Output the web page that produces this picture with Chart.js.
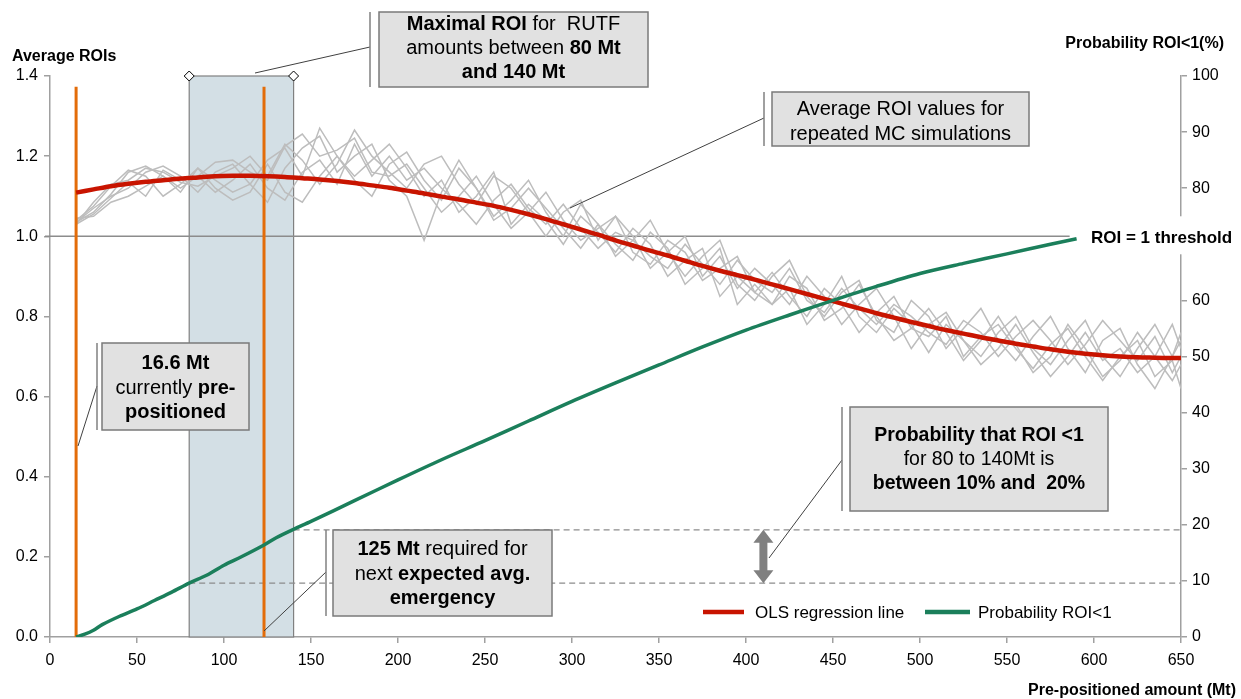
<!DOCTYPE html>
<html><head><meta charset="utf-8">
<script src="https://cdn.jsdelivr.net/npm/chart.js@4/dist/chart.umd.min.js"></script>
<style>html,body{margin:0;padding:0;background:#fff}</style>
</head><body>
<canvas id="c" width="1241" height="699"></canvas>
<script>
// ---------- DATA ----------
const amounts = [15,25,35,45,55,65,75,85,95,105,115,125,135,145,155,165,175,185,195,205,215,225,235,245,255,265,275,285,295,305,315,325,335,345,355,365,375,385,395,405,415,425,435,445,455,465,475,485,495,505,515,525,535,545,555,565,575,585,595,605,615,625,635,645,650];
const olsRoi = [1.109,1.117,1.125,1.131,1.136,1.140,1.144,1.147,1.150,1.151,1.151,1.150,1.148,1.145,1.142,1.138,1.133,1.127,1.121,1.114,1.107,1.099,1.092,1.084,1.076,1.066,1.055,1.043,1.030,1.017,1.004,0.990,0.977,0.964,0.952,0.939,0.926,0.914,0.903,0.892,0.880,0.868,0.856,0.844,0.832,0.820,0.808,0.797,0.786,0.776,0.766,0.757,0.748,0.740,0.732,0.725,0.718,0.712,0.707,0.703,0.700,0.698,0.697,0.696,0.696];
const mc1 = [1.035,1.060,1.105,1.160,1.175,1.150,1.120,1.150,1.185,1.190, 1.160,1.140,1.225,1.255,1.200,1.215,1.245,1.160,1.150,1.180, 1.120,1.060,1.100,1.150,1.080,1.020,1.060,1.110,1.040,0.990, 1.020,1.050,0.960,0.930,0.990,0.960,0.890,0.920,0.950,0.860, 0.830,0.900,0.870,0.790,0.820,0.880,0.800,0.740,0.770,0.820, 0.760,0.690,0.740,0.800,0.730,0.660,0.700,0.780,0.720,0.650, 0.690,0.760,0.700,0.640,0.680];
const mc2 = [1.040,1.075,1.125,1.165,1.150,1.100,1.130,1.170,1.120,1.090, 1.110,1.180,1.110,1.085,1.150,1.200,1.140,1.100,1.180,1.210, 1.140,1.090,1.170,1.120,1.050,1.090,1.140,1.060,1.000,1.080, 1.030,0.950,0.990,1.040,0.960,0.900,0.950,0.990,0.880,0.840, 0.900,0.940,0.850,0.800,0.860,0.890,0.790,0.760,0.840,0.800, 0.720,0.770,0.820,0.740,0.690,0.750,0.800,0.720,0.660,0.740, 0.770,0.680,0.620,0.700,0.740];
const mc3 = [1.030,1.085,1.130,1.140,1.170,1.160,1.135,1.125,1.150,1.170, 1.200,1.150,1.230,1.190,1.130,1.180,1.265,1.200,1.160,1.120, 1.180,1.200,1.130,1.080,1.150,1.120,1.060,1.000,1.060,1.090, 0.990,1.050,1.000,0.920,0.960,1.000,0.900,0.950,0.870,0.920, 0.880,0.830,0.900,0.850,0.780,0.830,0.870,0.800,0.720,0.780, 0.810,0.740,0.700,0.760,0.800,0.720,0.680,0.740,0.790,0.700, 0.650,0.720,0.780,0.700,0.760];
const mc4 = [1.045,1.050,1.085,1.100,1.125,1.150,1.110,1.170,1.140,1.110, 1.130,1.085,1.170,1.220,1.250,1.160,1.200,1.230,1.140,1.100, 0.990,1.110,1.190,1.120,1.040,1.070,1.120,1.070,1.020,0.970, 1.030,0.980,0.940,1.010,0.970,0.880,0.920,0.970,0.830,0.880, 0.830,0.870,0.780,0.830,0.900,0.800,0.760,0.820,0.780,0.710, 0.780,0.740,0.680,0.720,0.780,0.710,0.650,0.700,0.760,0.690, 0.720,0.660,0.700,0.780,0.720];
const mc5 = [1.035,1.070,1.100,1.120,1.160,1.175,1.150,1.110,1.160,1.180, 1.130,1.190,1.220,1.150,1.270,1.200,1.150,1.190,1.230,1.170, 1.100,1.140,1.060,1.100,1.160,1.030,1.080,1.040,0.980,1.050, 1.010,0.960,1.020,0.980,0.900,0.940,0.970,0.850,0.900,0.860, 0.910,0.850,0.800,0.870,0.830,0.760,0.810,0.850,0.770,0.750, 0.800,0.700,0.750,0.780,0.720,0.670,0.730,0.770,0.700,0.640, 0.700,0.740,0.650,0.690,0.620];
const mc6 = [1.030,1.055,1.095,1.135,1.100,1.165,1.140,1.150,1.110,1.140, 1.180,1.120,1.090,1.160,1.190,1.130,1.230,1.150,1.200,1.140, 1.170,1.120,1.080,1.030,1.090,1.130,1.070,1.030,1.080,1.020, 0.970,1.010,0.990,0.950,0.920,0.980,0.930,0.880,0.940,0.890, 0.860,0.920,0.840,0.810,0.870,0.820,0.780,0.830,0.800,0.760, 0.730,0.790,0.760,0.700,0.750,0.790,0.740,0.680,0.730,0.790, 0.740,0.690,0.750,0.660,0.700];
const probAmounts = [15,20,25,30,40,50,60,70,80,90,100,110,123,130,140,150,175,200,225,250,275,300,325,350,375,400,425,450,475,500,525,550,575,590];
const probPct = [0,0.5,1.2,2.2,3.7,5.0,6.5,8.0,9.6,11.0,12.8,14.3,16.4,17.7,19.2,20.6,24.3,28.0,31.6,35.0,38.5,42.0,45.3,48.5,51.7,54.7,57.4,60.0,62.5,64.8,66.6,68.3,70.0,71.0];
const currentAmount = 15;      // 16.6 Mt marker
const requiredAmount = 123;    // 125 Mt marker
const markerTop = 1.373;
const optimalRange = [80, 140];
const threshold = 1.0;
const thresholdEnd = 586;
const probBand = [9.6, 19.1];
const arrowAt = 410;
const xTickStep = 50, yTickStep = 0.2, y2TickStep = 10;

// ---------- HELPERS ----------
const FONT = '"Liberation Sans", Arial, sans-serif';
const pts = (xa, ya) => xa.map((x, i) => ({x, y: ya[i]}));
function rich(ctx, segs, cx, y, size) {
  let w = 0;
  segs.forEach(s => { ctx.font = (s[1] ? 'bold ' : '') + size + 'px ' + FONT; w += ctx.measureText(s[0]).width; });
  let x = cx - w / 2;
  ctx.textAlign = 'left'; ctx.textBaseline = 'alphabetic'; ctx.fillStyle = '#000';
  segs.forEach(s => { ctx.font = (s[1] ? 'bold ' : '') + size + 'px ' + FONT; ctx.fillText(s[0], x, y); x += ctx.measureText(s[0]).width; });
}
function line(ctx, x1, y1, x2, y2, color, w, dash) {
  ctx.save(); ctx.beginPath(); ctx.strokeStyle = color; ctx.lineWidth = w;
  if (dash) ctx.setLineDash(dash);
  ctx.moveTo(x1, y1); ctx.lineTo(x2, y2); ctx.stroke(); ctx.restore();
}
const boxes = [
  {r:[379,12,648,87], bx:370, lead:[370,47,255,73], size:20, lines:[[[ 'Maximal ROI',1],[' for  RUTF',0]],[['amounts between ',0],['80 Mt',1]],[['and 140 Mt',1]]], base:[30,54,78]},
  {r:[772,92,1029,146], bx:764, lead:[764,118,570,208], size:20, lines:[[['Average ROI values for',0]],[['repeated MC simulations',0]]], base:[115,140]},
  {r:[102,343,249,430], bx:97, lead:[97,386,78,446], size:20, lines:[[['16.6 Mt',1]],[['currently ',0],['pre-',1]],[['positioned',1]]], base:[369,394,418]},
  {r:[850,407,1108,511], bx:842, lead:[842,460,769,558], size:19.5, lines:[[['Probability that ROI <1',1]],[['for 80 to 140Mt is',0]],[['between 10% and  20%',1]]], base:[441,465,489]},
  {r:[333,530,552,616], bx:326, lead:[326,572,264,631], size:20, lines:[[['125 Mt',1],[' required for',0]],[['next ',0],['expected avg.',1]],[['emergency',1]]], base:[555,580,604]}
];

const behind = {
  id: 'behind',
  beforeDatasetsDraw(chart) {
    const {ctx, scales: {x, y, y2}} = chart;
    const x1 = x.getPixelForValue(optimalRange[0]), x2 = x.getPixelForValue(optimalRange[1]);
    const yt = y.getPixelForValue(1.4), yb = y.getPixelForValue(0);
    ctx.save();
    ctx.fillStyle = '#D3DFE5'; ctx.fillRect(x1, yt, x2 - x1, yb - yt);
    ctx.strokeStyle = '#808080'; ctx.lineWidth = 1.2; ctx.strokeRect(x1, yt, x2 - x1, yb - yt);
    ctx.restore();
    const yU = y2.getPixelForValue(probBand[1]), yL = y2.getPixelForValue(probBand[0]);
    line(ctx, x2, yU, x.right, yU, '#8C8C8C', 1.2, [6, 4]);
    line(ctx, x1, yL, x.right, yL, '#8C8C8C', 1.2, [6, 4]);
    const yth = y.getPixelForValue(threshold);
    line(ctx, x.left - 5, yth, x.getPixelForValue(thresholdEnd), yth, '#8C8C8C', 1.5);
  },
  afterDraw(chart) {
    const {ctx, scales: {x, y, y2}} = chart;
    ctx.save();
    [optimalRange[0], optimalRange[1]].forEach(v => {
      const px = x.getPixelForValue(v), py = y.getPixelForValue(1.4);
      ctx.beginPath(); ctx.moveTo(px, py - 5); ctx.lineTo(px + 5, py); ctx.lineTo(px, py + 5); ctx.lineTo(px - 5, py); ctx.closePath();
      ctx.fillStyle = '#fff'; ctx.fill(); ctx.strokeStyle = '#000'; ctx.lineWidth = 1; ctx.stroke();
    });
    const ax = x.getPixelForValue(arrowAt), ayT = y2.getPixelForValue(probBand[1]), ayB = y2.getPixelForValue(probBand[0]);
    ctx.fillStyle = '#808080';
    ctx.beginPath();
    ctx.moveTo(ax, ayT); ctx.lineTo(ax + 10, ayT + 13); ctx.lineTo(ax + 4, ayT + 13); ctx.lineTo(ax + 4, ayB - 13);
    ctx.lineTo(ax + 10, ayB - 13); ctx.lineTo(ax, ayB); ctx.lineTo(ax - 10, ayB - 13); ctx.lineTo(ax - 4, ayB - 13);
    ctx.lineTo(ax - 4, ayT + 13); ctx.lineTo(ax - 10, ayT + 13); ctx.closePath(); ctx.fill();
    boxes.forEach(b => {
      const [l, t, r, bt] = b.r;
      line(ctx, b.lead[0], b.lead[1], b.lead[2], b.lead[3], '#404040', 1);
      line(ctx, b.bx, t, b.bx, bt, '#808080', 1.5);
      ctx.fillStyle = '#E1E1E1'; ctx.fillRect(l, t, r - l, bt - t);
      ctx.strokeStyle = '#7A7A7A'; ctx.lineWidth = 1.5; ctx.strokeRect(l, t, r - l, bt - t);
      b.lines.forEach((segs, i) => rich(ctx, segs, (l + r) / 2, b.base[i], b.size));
    });
    const yth = y.getPixelForValue(threshold);
    ctx.fillStyle = '#fff'; ctx.fillRect(1086, yth - 20, 155, 38);
    ctx.fillStyle = '#000'; ctx.font = 'bold 17px ' + FONT; ctx.textAlign = 'left'; ctx.textBaseline = 'alphabetic';
    ctx.fillText('ROI = 1 threshold', 1091, yth + 7);
    line(ctx, 703, 612, 744, 612, '#C81400', 4.5);
    line(ctx, 925, 612, 970, 612, '#1B7F5B', 4.5);
    ctx.fillStyle = '#000'; ctx.font = '17px ' + FONT;
    ctx.fillText('OLS regression line', 755, 618);
    ctx.fillText('Probability ROI<1', 978, 618);
    ctx.font = 'bold 16px ' + FONT;
    ctx.textAlign = 'left'; ctx.fillText('Average ROIs', 12, 61);
    ctx.textAlign = 'right'; ctx.fillText('Probability ROI<1(%)', 1224, 48);
    ctx.fillText('Pre-positioned amount (Mt)', 1236, 695);
    ctx.restore();
  }
};

const grey = (d) => ({data: pts(amounts, d), yAxisID: 'y', borderColor: '#BDBDBD', borderWidth: 1.5, pointRadius: 0, tension: 0, order: 5});

new Chart(document.getElementById('c'), {
  type: 'line',
  data: {
    datasets: [
      {label: 'Probability ROI<1', data: pts(probAmounts, probPct), yAxisID: 'y2', borderColor: '#1B7F5B', borderWidth: 3.5, pointRadius: 0, tension: 0.3, order: 0},
      {label: 'OLS regression line', data: pts(amounts, olsRoi), yAxisID: 'y', borderColor: '#C81400', borderWidth: 4.5, pointRadius: 0, tension: 0.3, order: 1},
      {label: 'current', data: [{x: currentAmount, y: 0}, {x: currentAmount, y: markerTop}], yAxisID: 'y', borderColor: '#E36C09', borderWidth: 3, pointRadius: 0, order: 2},
      {label: 'required', data: [{x: requiredAmount, y: 0}, {x: requiredAmount, y: markerTop}], yAxisID: 'y', borderColor: '#E36C09', borderWidth: 3, pointRadius: 0, order: 2},
      grey(mc1), grey(mc2), grey(mc3), grey(mc4), grey(mc5), grey(mc6)
    ]
  },
  options: {
    responsive: false, animation: false, devicePixelRatio: 1,
    layout: {padding: {top: 76, left: 0, right: 0, bottom: 0}},
    plugins: {legend: {display: false}, tooltip: {enabled: false}},
    scales: {
      x: {type: 'linear', min: 0, max: 650, position: 'bottom',
        ticks: {stepSize: xTickStep, color: '#000', font: {family: FONT, size: 16}, padding: 8, maxRotation: 0},
        grid: {drawOnChartArea: false, tickLength: 6, color: '#A0A0A0', lineWidth: 1.5},
        border: {color: '#A0A0A0', width: 1.5},
        afterFit: s => { s.height = 62; }},
      y: {type: 'linear', min: 0, max: 1.4, position: 'left',
        ticks: {stepSize: yTickStep, color: '#000', font: {family: FONT, size: 16}, padding: 6, callback: v => v.toFixed(1)},
        grid: {drawOnChartArea: false, tickLength: 6, color: '#A0A0A0', lineWidth: 1.5},
        border: {color: '#A0A0A0', width: 1.5},
        afterFit: s => { s.width = 50; }},
      y2: {type: 'linear', min: 0, max: 100, position: 'right',
        ticks: {stepSize: y2TickStep, color: '#000', font: {family: FONT, size: 16}, padding: 5},
        grid: {drawOnChartArea: false, tickLength: 6, color: '#A0A0A0', lineWidth: 1.5},
        border: {color: '#A0A0A0', width: 1.5},
        afterFit: s => { s.width = 60; }}
    }
  },
  plugins: [behind]
});
</script>
</body></html>
